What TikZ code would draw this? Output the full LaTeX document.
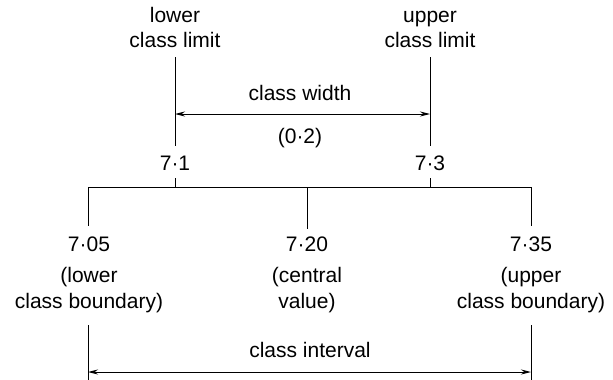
\documentclass[tikz,border=0pt]{standalone}
\usepackage{fontspec}
\setmainfont{Liberation Sans}
\usetikzlibrary{arrows.meta}
\begin{document}
\begin{tikzpicture}[x=1pt,y=-1pt,line width=1pt,
  lbl/.style={anchor=base,inner sep=0pt,font=\fontsize{21}{25}\selectfont},
  dim/.style={{Stealth[length=10pt,width=5pt]}-{Stealth[length=10pt,width=5pt]}}]
\useasboundingbox (0,0) rectangle (613,380);
% top labels
\node[lbl] (ll1) at (175,23) {lower};
\node[lbl] (ll2) at (175,47) {class limit};
\node[lbl] (ul1) at (430,23) {upper};
\node[lbl] (ul2) at (430,47) {class limit};
\coordinate (lt) at (175,57); \coordinate (lb) at (175,146);
\coordinate (rt) at (430,57); \coordinate (rb) at (430,146);
\draw (lt) -- (lb);
\draw (rt) -- (rb);
\coordinate (wa) at (175,114); \coordinate (wb) at (430,114);
\draw[dim] (wa) -- (wb);
\node[lbl] (cw) at (300,100) {class width};
\node[lbl] (cwv) at (300,143) {(0·2)};
% limits
\node[lbl] (v71) at (175,170) {7·1};
\node[lbl] (v73) at (430,170) {7·3};
\coordinate (t1a) at (175,178); \coordinate (t1b) at (175,187);
\coordinate (t3a) at (430,178); \coordinate (t3b) at (430,187);
\draw (t1a) -- (t1b);
\draw (t3a) -- (t3b);
\coordinate (bl) at (88,187); \coordinate (bc) at (307,187); \coordinate (br) at (531,187);
\draw (bl) -- (br);
\coordinate (bld) at (88,226); \coordinate (bcd) at (307,229); \coordinate (brd) at (531,226);
\draw (bl) -- (bld);
\draw (bc) -- (bcd);
\draw (br) -- (brd);
% bottom labels
\node[lbl] (v705) at (89,251) {7·05};
\node[lbl] (v720) at (307,251) {7·20};
\node[lbl] (v735) at (531,251) {7·35};
\node[lbl] (lb1) at (89,282) {(lower};
\node[lbl] (lb2) at (89,308) {class boundary)};
\node[lbl] (cv1) at (307,282) {(central};
\node[lbl] (cv2) at (307,308) {value)};
\node[lbl] (ub1) at (531,282) {(upper};
\node[lbl] (ub2) at (531,308) {class boundary)};
% class interval
\coordinate (il) at (88,325); \coordinate (ilb) at (88,380);
\coordinate (ir) at (531,325); \coordinate (irb) at (531,380);
\draw (il) -- (ilb);
\draw (ir) -- (irb);
\coordinate (ia) at (88,372); \coordinate (ib) at (531,372);
\draw[dim] (ia) -- (ib);
\node[lbl] (ci) at (310,357) {class interval};
\end{tikzpicture}
\end{document}
